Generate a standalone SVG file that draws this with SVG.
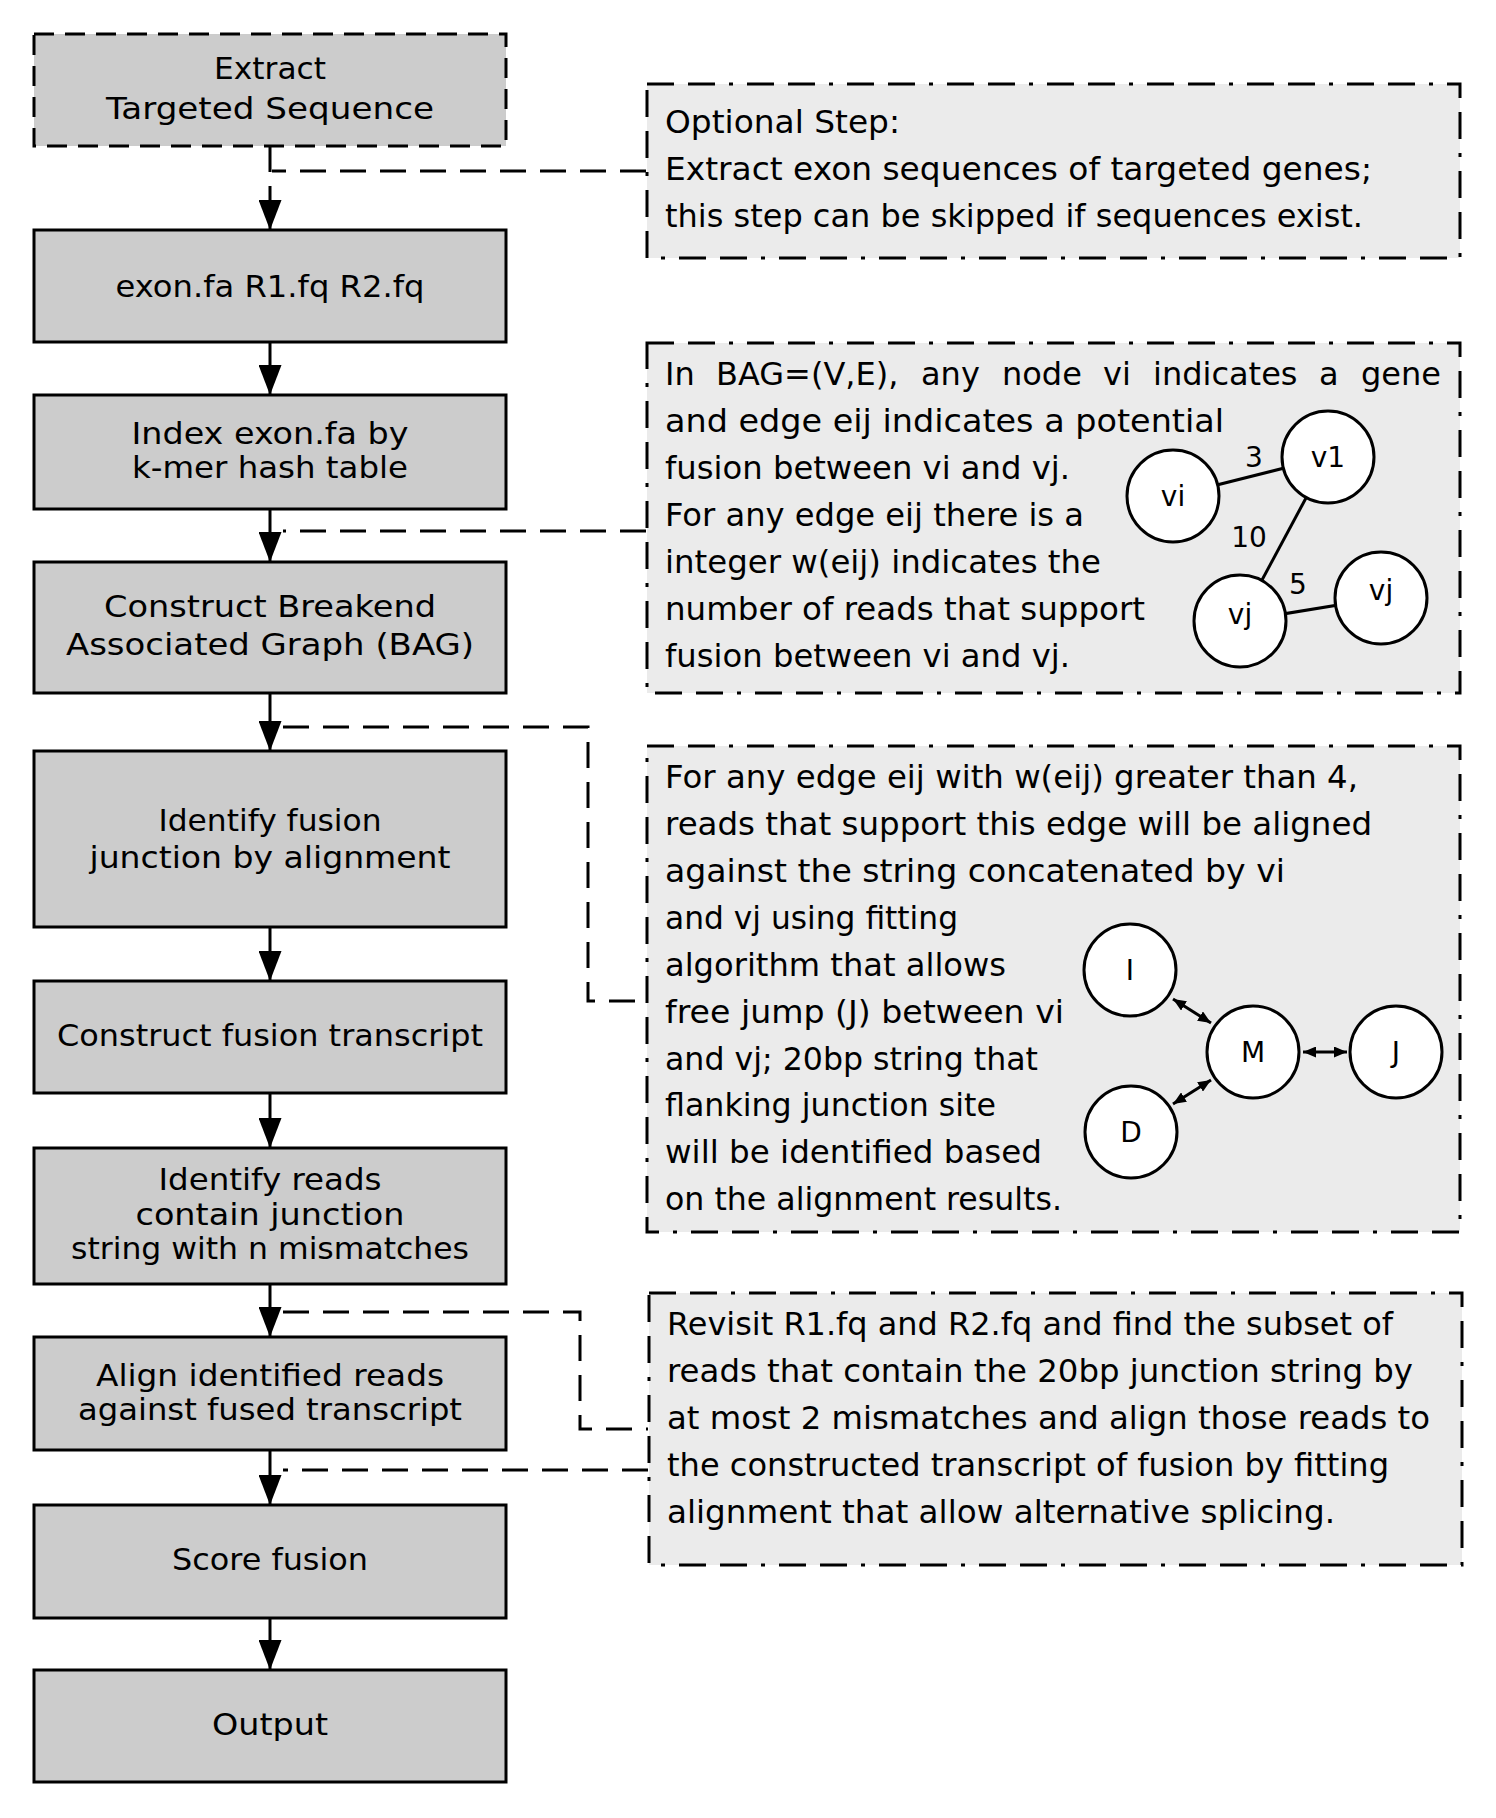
<svg xmlns="http://www.w3.org/2000/svg" width="1496" height="1818" viewBox="0 0 1496 1818">
<defs>
<marker id="arr" markerUnits="userSpaceOnUse" markerWidth="30" markerHeight="23" refX="30" refY="11.5" orient="auto">
<path d="M0,0 L30,11.5 L0,23 z" fill="#000"/>
</marker>
<marker id="sarr" markerUnits="userSpaceOnUse" markerWidth="13" markerHeight="11" refX="13" refY="5.5" orient="auto-start-reverse">
<path d="M0,0 L13,5.5 L0,11 z" fill="#000"/>
</marker>
</defs>
<style>
text{font-family:"DejaVu Sans","Liberation Sans",sans-serif;fill:#000}
.box{fill:#cccccc;stroke:#000;stroke-width:3}
.dbox{fill:#cccccc;stroke:#000;stroke-width:3;stroke-dasharray:20 11}
.note{fill:#ebebeb;stroke:#000;stroke-width:3;stroke-dasharray:27 14 27 14 4 14}
.bt{font-size:30px;text-anchor:middle}
.nt{font-size:32px}
.arrow{stroke:#000;stroke-width:3;fill:none;marker-end:url(#arr)}
.dash{stroke:#000;stroke-width:3;fill:none;stroke-dasharray:26 14}
.circ{fill:#fff;stroke:#000;stroke-width:3}
.edge{stroke:#000;stroke-width:3;fill:none}
.darr{stroke:#000;stroke-width:3;fill:none;marker-start:url(#sarr);marker-end:url(#sarr)}
.cl{font-size:28px;text-anchor:middle}
</style>
<rect width="1496" height="1818" fill="#fff"/>

<g id="connectors">
<path class="dash" d="M270,146 V200" />
<path class="arrow" d="M270,200 V230" />
<path class="dash" d="M646,171 H272" />
<path class="arrow" d="M270,342 V395" />
<path class="arrow" d="M270,509 V562" />
<path class="dash" d="M646,531 H283" />
<path class="arrow" d="M270,693 V751" />
<path class="dash" d="M283,727 H588 V1001 H646" />
<path class="arrow" d="M270,927 V981" />
<path class="arrow" d="M270,1093 V1148" />
<path class="arrow" d="M270,1284 V1337" />
<path class="dash" d="M283,1312 H580 V1429 H648" />
<path class="arrow" d="M270,1450 V1505" />
<path class="dash" d="M648,1470 H283" />
<path class="arrow" d="M270,1618 V1670" />
</g>

<g id="extract">
<rect class="dbox" x="34" y="34" width="472" height="112"/>
<text class="bt" x="270" y="79" textLength="112" lengthAdjust="spacingAndGlyphs">Extract</text>
<text class="bt" x="270" y="119" textLength="328" lengthAdjust="spacingAndGlyphs">Targeted Sequence</text>
</g>
<g id="inputs">
<rect class="box" x="34" y="230" width="472" height="112"/>
<text class="bt" x="270" y="297" textLength="309" lengthAdjust="spacingAndGlyphs">exon.fa R1.fq R2.fq</text>
</g>
<g id="index">
<rect class="box" x="34" y="395" width="472" height="114"/>
<text class="bt" x="270" y="444" textLength="277" lengthAdjust="spacingAndGlyphs">Index exon.fa by</text>
<text class="bt" x="270" y="478" textLength="276" lengthAdjust="spacingAndGlyphs">k-mer hash table</text>
</g>
<g id="bag">
<rect class="box" x="34" y="562" width="472" height="131"/>
<text class="bt" x="270" y="617" textLength="332" lengthAdjust="spacingAndGlyphs">Construct Breakend</text>
<text class="bt" x="270" y="655" textLength="408" lengthAdjust="spacingAndGlyphs">Associated Graph (BAG)</text>
</g>
<g id="identify-fusion">
<rect class="box" x="34" y="751" width="472" height="176"/>
<text class="bt" x="270" y="831" textLength="223" lengthAdjust="spacingAndGlyphs">Identify fusion</text>
<text class="bt" x="270" y="868" textLength="361" lengthAdjust="spacingAndGlyphs">junction by alignment</text>
</g>
<g id="construct-transcript">
<rect class="box" x="34" y="981" width="472" height="112"/>
<text class="bt" x="270" y="1046" textLength="426" lengthAdjust="spacingAndGlyphs">Construct fusion transcript</text>
</g>
<g id="identify-reads">
<rect class="box" x="34" y="1148" width="472" height="136"/>
<text class="bt" x="270" y="1190" textLength="223" lengthAdjust="spacingAndGlyphs">Identify reads</text>
<text class="bt" x="270" y="1225" textLength="269" lengthAdjust="spacingAndGlyphs">contain junction</text>
<text class="bt" x="270" y="1259" textLength="398" lengthAdjust="spacingAndGlyphs">string with n mismatches</text>
</g>
<g id="align">
<rect class="box" x="34" y="1337" width="472" height="113"/>
<text class="bt" x="270" y="1386" textLength="348" lengthAdjust="spacingAndGlyphs">Align identified reads</text>
<text class="bt" x="270" y="1420" textLength="384" lengthAdjust="spacingAndGlyphs">against fused transcript</text>
</g>
<g id="score">
<rect class="box" x="34" y="1505" width="472" height="113"/>
<text class="bt" x="270" y="1570" textLength="196" lengthAdjust="spacingAndGlyphs">Score fusion</text>
</g>
<g id="output">
<rect class="box" x="34" y="1670" width="472" height="112"/>
<text class="bt" x="270" y="1735" textLength="116" lengthAdjust="spacingAndGlyphs">Output</text>
</g>

<g id="note-optional">
<rect class="note" x="647" y="84" width="813" height="174"/>
<text class="nt" x="665" y="133" textLength="235" lengthAdjust="spacingAndGlyphs">Optional Step:</text>
<text class="nt" x="665" y="180" textLength="707" lengthAdjust="spacingAndGlyphs">Extract exon sequences of targeted genes;</text>
<text class="nt" x="665" y="227" textLength="698" lengthAdjust="spacingAndGlyphs">this step can be skipped if sequences exist.</text>
</g>

<g id="note-bag">
<rect class="note" x="647" y="343" width="813" height="350"/>
<text class="nt" y="385"><tspan x="665">In</tspan><tspan x="716">BAG=(V,E),</tspan><tspan x="921">any</tspan><tspan x="1002">node</tspan><tspan x="1103">vi</tspan><tspan x="1153">indicates</tspan><tspan x="1319">a</tspan><tspan x="1361">gene</tspan></text>
<text class="nt" x="665" y="432" textLength="559" lengthAdjust="spacingAndGlyphs">and edge eij indicates a potential</text>
<text class="nt" x="665" y="479" textLength="405" lengthAdjust="spacingAndGlyphs">fusion between vi and vj.</text>
<text class="nt" x="665" y="526" textLength="419" lengthAdjust="spacingAndGlyphs">For any edge eij there is a</text>
<text class="nt" x="665" y="573" textLength="436" lengthAdjust="spacingAndGlyphs">integer w(eij) indicates the</text>
<text class="nt" x="665" y="620" textLength="480" lengthAdjust="spacingAndGlyphs">number of reads that support</text>
<text class="nt" x="665" y="667" textLength="405" lengthAdjust="spacingAndGlyphs">fusion between vi and vj.</text>
<g id="bag-graph">
<line class="edge" x1="1173" y1="496" x2="1328" y2="457"/>
<line class="edge" x1="1328" y1="457" x2="1240" y2="621"/>
<line class="edge" x1="1240" y1="621" x2="1381" y2="598"/>
<circle class="circ" cx="1173" cy="496" r="46"/>
<circle class="circ" cx="1328" cy="457" r="46"/>
<circle class="circ" cx="1240" cy="621" r="46"/>
<circle class="circ" cx="1381" cy="598" r="46"/>
<text class="cl" x="1173" y="506">vi</text>
<text class="cl" x="1328" y="467">v1</text>
<text class="cl" x="1240" y="624">vj</text>
<text class="cl" x="1381" y="600">vj</text>
<text class="cl" x="1254" y="467">3</text>
<text class="cl" x="1249" y="547">10</text>
<text class="cl" x="1298" y="594">5</text>
</g>
</g>

<g id="note-align">
<rect class="note" x="647" y="746" width="813" height="486"/>
<text class="nt" x="665" y="788" textLength="693" lengthAdjust="spacingAndGlyphs">For any edge eij with w(eij) greater than 4,</text>
<text class="nt" x="665" y="835" textLength="707" lengthAdjust="spacingAndGlyphs">reads that support this edge will be aligned</text>
<text class="nt" x="665" y="882" textLength="620" lengthAdjust="spacingAndGlyphs">against the string concatenated by vi</text>
<text class="nt" x="665" y="929" textLength="293" lengthAdjust="spacingAndGlyphs">and vj using fitting</text>
<text class="nt" x="665" y="976" textLength="341" lengthAdjust="spacingAndGlyphs">algorithm that allows</text>
<text class="nt" x="665" y="1023" textLength="399" lengthAdjust="spacingAndGlyphs">free jump (J) between vi</text>
<text class="nt" x="665" y="1070" textLength="373" lengthAdjust="spacingAndGlyphs">and vj; 20bp string that</text>
<text class="nt" x="665" y="1116" textLength="331" lengthAdjust="spacingAndGlyphs">flanking junction site</text>
<text class="nt" x="665" y="1163" textLength="377" lengthAdjust="spacingAndGlyphs">will be identified based</text>
<text class="nt" x="665" y="1210" textLength="397" lengthAdjust="spacingAndGlyphs">on the alignment results.</text>
<g id="align-graph">
<line class="darr" x1="1173" y1="999" x2="1211" y2="1023"/>
<line class="darr" x1="1303" y1="1052" x2="1347" y2="1052"/>
<line class="darr" x1="1173" y1="1104" x2="1211" y2="1080"/>
<circle class="circ" cx="1130" cy="970" r="46"/>
<circle class="circ" cx="1253" cy="1052" r="46"/>
<circle class="circ" cx="1396" cy="1052" r="46"/>
<circle class="circ" cx="1131" cy="1132" r="46"/>
<text class="cl" x="1130" y="980">I</text>
<text class="cl" x="1253" y="1062">M</text>
<text class="cl" x="1396" y="1062">J</text>
<text class="cl" x="1131" y="1142">D</text>
</g>
</g>

<g id="note-revisit">
<rect class="note" x="649" y="1293" width="813" height="272"/>
<text class="nt" x="667" y="1335" textLength="726" lengthAdjust="spacingAndGlyphs">Revisit R1.fq and R2.fq and find the subset of</text>
<text class="nt" x="667" y="1382" textLength="746" lengthAdjust="spacingAndGlyphs">reads that contain the 20bp junction string by</text>
<text class="nt" x="667" y="1429" textLength="763" lengthAdjust="spacingAndGlyphs">at most 2 mismatches and align those reads to</text>
<text class="nt" x="667" y="1476" textLength="722" lengthAdjust="spacingAndGlyphs">the constructed transcript of fusion by fitting</text>
<text class="nt" x="667" y="1523" textLength="668" lengthAdjust="spacingAndGlyphs">alignment that allow alternative splicing.</text>
</g>
</svg>
